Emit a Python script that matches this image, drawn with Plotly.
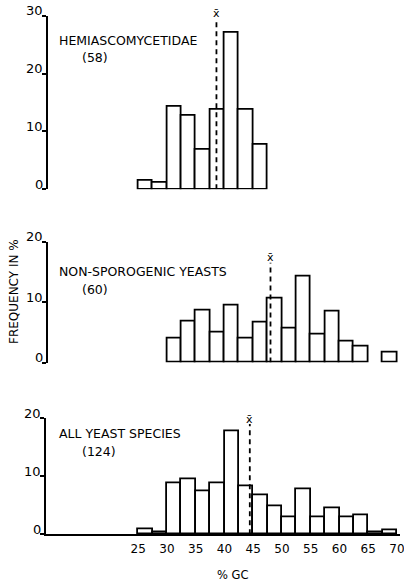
import plotly.graph_objects as go

# ---- data ----
bin_width = 2.5
hemi_starts = [25, 27.5, 30, 32.5, 35, 37.5, 40, 42.5, 45]
hemi_freq = [1.5, 1.1, 14.2, 12.7, 6.8, 13.7, 27.1, 13.7, 7.7]
hemi_mean = 38.6

nonspo_starts = [30, 32.5, 35, 37.5, 40, 42.5, 45, 47.5, 50, 52.5, 55, 57.5, 60, 62.5, 67.5]
nonspo_freq = [3.9, 6.7, 8.6, 4.9, 9.5, 3.9, 6.6, 10.5, 5.7, 14.2, 4.6, 8.4, 3.5, 2.6, 1.6]
nonspo_mean = 48.0

all_starts = [25, 27.5, 30, 32.5, 35, 37.5, 40, 42.5, 45, 47.5, 50, 52.5, 55, 57.5, 60, 62.5, 65, 67.5]
all_freq = [0.9, 0.4, 8.8, 9.4, 7.4, 8.8, 17.7, 8.25, 6.8, 4.8, 2.9, 7.7, 2.9, 4.4, 2.9, 3.3, 0.3, 0.7]
all_mean = 44.4

x_ticks = [25, 30, 35, 40, 45, 50, 55, 60, 65, 70]

panels = [
    dict(starts=hemi_starts, freq=hemi_freq, mean=hemi_mean, ymax=30, yticks=[0, 10, 20, 30],
         title="HEMIASCOMYCETIDAE", n="(58)", dash_top=29.0),
    dict(starts=nonspo_starts, freq=nonspo_freq, mean=nonspo_mean, ymax=20, yticks=[0, 10, 20],
         title="NON-SPOROGENIC YEASTS", n="(60)", dash_top=16.5),
    dict(starts=all_starts, freq=all_freq, mean=all_mean, ymax=20, yticks=[0, 10, 20],
         title="ALL YEAST SPECIES", n="(124)", dash_top=19.0),
]

W, H = 404, 583
px_layout = [(189.3, 15.7), (362.5, 241.5), (534.3, 418.3)]
title_px = [(40.7, 57.0), (271.0, 289.0), (433.0, 451.0)]
xbar_px = [14.0, 257.0, 419.0]
axis_px = [47.5, 47.5, 46.0]

x_right_px = 400
px_per_unit = 5.75
x_left_px = 46

def xr(left_px):
    return [30 - (167 - left_px) / px_per_unit, 70 + (x_right_px - 397) / px_per_unit]

FONT = "DejaVu Sans"
fig = go.Figure()
shapes = []
annotations = []

for i, p in enumerate(panels):
    k = i + 1
    xa = "x" if k == 1 else f"x{k}"
    ya = "y" if k == 1 else f"y{k}"
    fig.add_trace(go.Bar(
        x=[s + bin_width / 2 for s in p["starts"]], y=p["freq"], width=bin_width,
        marker=dict(color="white", line=dict(color="black", width=1.8)),
        xaxis=xa, yaxis=ya, showlegend=False, hoverinfo="skip"))
    y0, y1 = px_layout[i]
    dom = [1 - y0 / H, 1 - y1 / H]
    is_bottom = (k == 3)
    lp = axis_px[i]
    fig.layout[f"xaxis{'' if k == 1 else k}"] = dict(
        domain=[lp / W, x_right_px / W], range=xr(lp), anchor=ya,
        showgrid=False, zeroline=False, visible=is_bottom,
        showline=is_bottom, linecolor="black", linewidth=1.8,
        tickvals=x_ticks, ticks="", ticklabeloverflow="allow", ticklabelstandoff=2,
        tickfont=dict(family=FONT, size=12, color="black"),
        fixedrange=True)
    fig.layout[f"yaxis{'' if k == 1 else k}"] = dict(
        domain=dom, range=[0, p["ymax"]], anchor=xa,
        showgrid=False, zeroline=False, showline=True, linecolor="black", linewidth=1.8,
        tickvals=p["yticks"], ticks="outside", ticklen=4, tickwidth=1.6, tickcolor="black",
        showticklabels=False, fixedrange=True)
    for t in p["yticks"]:
        annotations.append(dict(xref="paper", yref=ya, x=(lp - 3) / W, y=t, xanchor="right",
                                yanchor="middle", yshift=5, text=str(t), showarrow=False,
                                font=dict(family=FONT, size=13, color="black")))
    shapes.append(dict(type="line", xref=xa, yref=ya, x0=p["mean"], x1=p["mean"],
                       y0=0, y1=p["dash_top"],
                       line=dict(color="black", width=1.8, dash="5px,4px")))
    annotations.append(dict(xref=xa, yref="paper", x=p["mean"], y=1 - xbar_px[i] / H,
                            xanchor="center", yanchor="middle", text="x\u0304",
                            showarrow=False, font=dict(family=FONT, size=11, color="black")))
    ty, ny = title_px[i]
    annotations.append(dict(xref="paper", yref="paper", x=57 / W, y=1 - ty / H, xanchor="left",
                            yanchor="middle", text=p["title"], showarrow=False,
                            font=dict(family=FONT, size=12.5, color="black")))
    annotations.append(dict(xref="paper", yref="paper", x=80 / W, y=1 - ny / H, xanchor="left",
                            yanchor="middle", text=p["n"], showarrow=False,
                            font=dict(family=FONT, size=12.5, color="black")))

annotations.append(dict(xref="paper", yref="paper", x=13.5 / W, y=1 - 291.5 / H,
                        xanchor="center", yanchor="middle", text="FREQUENCY IN %",
                        textangle=-90, showarrow=False, font=dict(family=FONT, size=12, color="black")))
annotations.append(dict(xref="paper", yref="paper", x=233 / W, y=1 - 575 / H,
                        xanchor="center", yanchor="middle", text="% GC",
                        showarrow=False, font=dict(family=FONT, size=11.5, color="black")))

fig.update_layout(width=W, height=H, margin=dict(l=0, r=0, t=0, b=0, autoexpand=False),
                  paper_bgcolor="white", plot_bgcolor="white", bargap=0,
                  shapes=shapes, annotations=annotations)
fig.write_html("out.html", config={"displayModeBar": False})
